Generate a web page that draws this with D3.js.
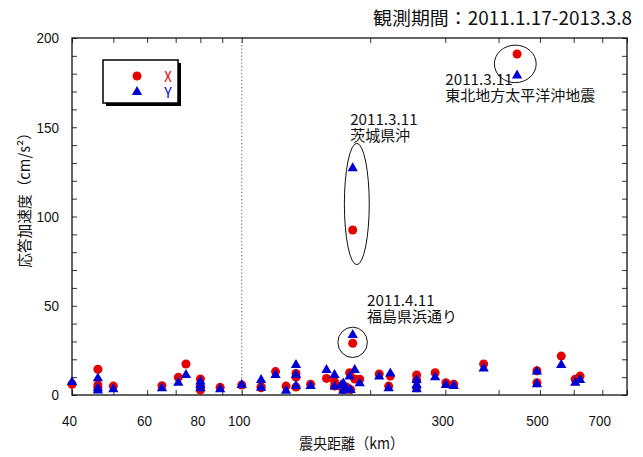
<!DOCTYPE html>
<html><head><meta charset="utf-8">
<script src="https://cdn.jsdelivr.net/npm/d3@7"></script>
<style>
body{margin:0;background:#fff;}
svg{display:block;font-family:"Noto Sans CJK JP","Noto Sans CJK SC",sans-serif;}
</style></head><body>
<svg id="chart" width="643" height="457"></svg>
<script>
// Epicentral distance (km) of each recorded event
const distance = [40, 46, 46, 46, 50, 65, 71, 74, 80, 80, 80, 89, 100, 111, 111, 120, 127, 134, 134, 134,
  145, 158, 165, 165, 171, 173, 173, 176, 179, 180, 182, 182, 184, 189, 210, 221, 223, 257, 257, 257,
  284, 301, 314, 369, 442, 492, 492, 561, 605, 621];
// Peak response acceleration (cm/s²), X component
const accX = [6.0, 14.4, 5.6, 4.2, 5.0, 5.2, 9.9, 17.4, 9.0, 4.7, 2.8, 4.3, 5.6, 4.7, 4.0, 13.1, 5.0, 12.1, 10.0, 4.5,
  6.0, 9.3, 7.5, 5.0, 5.0, 4.0, 3.0, 4.5, 12.5, 3.0, 92.4, 29.0, 9.0, 8.8, 11.8, 5.0, 10.6, 11.2, 8.4, 4.0,
  12.5, 6.9, 6.0, 17.4, 191, 13.6, 6.9, 21.8, 8.8, 10.6];
// Peak response acceleration (cm/s²), Y component
const accY = [7.2, 9.3, 3.8, 2.5, 3.2, 3.7, 6.9, 11.2, 7.5, 5.6, 3.7, 3.2, 5.6, 8.4, 4.1, 11.2, 2.4, 16.8, 11.2, 5.0,
  5.0, 14.0, 11.2, 4.7, 5.5, 6.5, 2.4, 3.2, 10.3, 2.8, 127, 33.6, 14.0, 6.5, 10.3, 3.7, 12.1, 8.4, 5.6, 3.2,
  9.9, 5.6, 5.0, 14.9, 179, 13.1, 6.0, 16.8, 6.9, 8.4];

const xTicks = [40, 50, 60, 70, 80, 90, 100, 200, 300, 400, 500, 600, 700, 800];
const xTickLabels = [40, 60, 80, 100, 300, 500, 700];
const yTicks = d3.range(0, 201, 10);
const yTickLabels = [0, 50, 100, 150, 200];

const seriesNames = ["X", "Y"];
const seriesColors = ["#e60000", "#0000d2"];

// Highlighted earthquakes: label lines, label anchor, and ring extent (km, cm/s²)
const notes = [
  {lines: ["2011.3.11", "東北地方太平洋沖地震"], at: [300, 173.5], ring: [[391, 490], [175, 196]]},
  {lines: ["2011.3.11", "茨城県沖"], at: [179.5, 151], ring: [[174, 199], [73, 141]]},
  {lines: ["2011.4.11", "福島県浜通り"], at: [196.7, 49.7], ring: [[168, 197], [21, 38]]}
];

const title = "観測期間：2011.1.17-2013.3.8";
const xTitle = "震央距離（km）";
const yTitle = "応答加速度（cm/s²）";

const W = 643, H = 457;
const m = {left: 72, right: 16, top: 38, bottom: 62};
const svg = d3.select("#chart");

const x = d3.scaleLog().domain([40, 800]).range([m.left, W - m.right]);
const y = d3.scaleLinear().domain([0, 200]).range([H - m.bottom, m.top]);

// Text set in gothic proportions: half-width Latin, full-width kana/kanji
function gothic(sel, size) {
  sel.attr("font-size", size).each(function () {
    const t = d3.select(this).text();
    let em = 0;
    for (const ch of t) em += ch.codePointAt(0) < 0x2000 ? 0.5 : 1;
    d3.select(this).attr("textLength", em * size).attr("lengthAdjust", "spacingAndGlyphs");
  });
}

// Reference line at 100 km
svg.append("line")
  .attr("x1", x(100)).attr("x2", x(100))
  .attr("y1", y(200)).attr("y2", y(0))
  .attr("stroke", "#555").attr("stroke-width", 1)
  .attr("stroke-dasharray", "1.2,2.3");

// Inward ticks on all four sides
const fmtX = d => xTickLabels.includes(d) ? String(d) : "";
const fmtY = d => yTickLabels.includes(d) ? String(d) : "";
const gB = svg.append("g").attr("transform", `translate(0,${y(0)})`)
  .call(d3.axisBottom(x).tickValues(xTicks).tickFormat(fmtX).tickSizeInner(-5).tickSizeOuter(0).tickPadding(20));
const gT = svg.append("g").attr("transform", `translate(0,${y(200)})`)
  .call(d3.axisTop(x).tickValues(xTicks).tickFormat("").tickSizeInner(-5).tickSizeOuter(0));
const gL = svg.append("g").attr("transform", `translate(${x(40)},0)`)
  .call(d3.axisLeft(y).tickValues(yTicks).tickFormat(fmtY).tickSizeInner(-5).tickSizeOuter(0).tickPadding(13));
const gR = svg.append("g").attr("transform", `translate(${x(800)},0)`)
  .call(d3.axisRight(y).tickValues(yTicks).tickFormat("").tickSizeInner(-5).tickSizeOuter(0));
[gB, gT, gL, gR].forEach(g => {
  g.select(".domain").remove();
  g.selectAll(".tick line").attr("stroke", "#333");
  g.selectAll("text").attr("fill", "#111").attr("font-family", null);
});
gB.selectAll("text").attr("dx", -3).call(gothic, 15);
gL.selectAll("text").call(gothic, 15);

// Plot frame
svg.append("rect")
  .attr("x", x(40)).attr("y", y(200))
  .attr("width", x(800) - x(40)).attr("height", y(0) - y(200))
  .attr("fill", "none").attr("stroke", "#111").attr("stroke-width", 1.3);

// Markers: X as circles, then Y as triangles on top
const circle = d3.symbol().type(d3.symbolCircle).size(64)();
const tri = d3.symbol().type(d3.symbolTriangle).size(46)();
const plot = svg.append("g");
plot.selectAll("path.px").data(distance).join("path")
  .attr("class", "px").attr("d", circle).attr("fill", seriesColors[0])
  .attr("transform", (d, i) => `translate(${x(d)},${y(accX[i])})`);
plot.selectAll("path.py").data(distance).join("path")
  .attr("class", "py").attr("d", tri).attr("fill", seriesColors[1])
  .attr("transform", (d, i) => `translate(${x(d)},${y(accY[i])})`);

// Annotated events
notes.forEach(n => {
  const [dx, vy] = n.ring;
  svg.append("ellipse")
    .attr("cx", (x(dx[0]) + x(dx[1])) / 2).attr("cy", (y(vy[0]) + y(vy[1])) / 2)
    .attr("rx", (x(dx[1]) - x(dx[0])) / 2).attr("ry", (y(vy[0]) - y(vy[1])) / 2)
    .attr("fill", "none").attr("stroke", "#111").attr("stroke-width", 1);
  const t = svg.append("g").attr("transform", `translate(${x(n.at[0])},${y(n.at[1])})`);
  n.lines.forEach((s, k) => {
    t.append("text").attr("y", k * 16).attr("fill", "#111").text(s).call(gothic, 15);
  });
});

// Legend with drop shadow
const lg = svg.append("g").attr("transform", "translate(103,60)");
lg.append("rect").attr("x", 3).attr("y", 3).attr("width", 75).attr("height", 43).attr("fill", "#000");
lg.append("rect").attr("width", 75).attr("height", 43).attr("fill", "#fff")
  .attr("stroke", "#000").attr("stroke-width", 1.5);
seriesNames.forEach((s, i) => {
  const row = lg.append("g").attr("transform", `translate(0,${16 + i * 16})`);
  row.append("path").attr("d", i === 0 ? circle : tri).attr("fill", seriesColors[i])
    .attr("transform", "translate(34,0)");
  row.append("text").attr("x", 65).attr("y", 5.5).attr("text-anchor", "middle")
    .attr("fill", seriesColors[i]).text(s).call(gothic, 15);
});

// Titles
svg.append("text").attr("x", 632).attr("y", 25).attr("text-anchor", "end")
  .attr("fill", "#111").text(title).call(gothic, 18.5);
svg.append("text").attr("x", (x(40) + x(800)) / 2 + 2).attr("y", 449).attr("text-anchor", "middle")
  .attr("fill", "#111").text(xTitle).call(gothic, 15);
svg.append("text").attr("transform", `translate(30,${(y(0) + y(200)) / 2 - 20}) rotate(-90)`)
  .attr("text-anchor", "middle").attr("fill", "#111").text(yTitle).call(gothic, 15);
</script>
</body></html>
